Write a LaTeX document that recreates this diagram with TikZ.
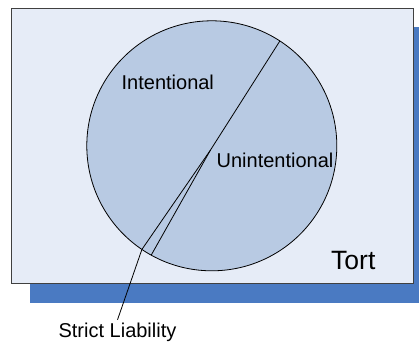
\documentclass[tikz,border=0pt]{standalone}
\usepackage{fontspec}
\setmainfont{Liberation Sans}
\definecolor{pagefill}{HTML}{E6ECF7}
\definecolor{discfill}{HTML}{B8CAE3}
\definecolor{shadowblue}{HTML}{4A7AC2}
\begin{document}
\begin{tikzpicture}[x = 1pt, y = 1pt, every node/.style = {font = \fontsize{20}{24}\selectfont}]
		\useasboundingbox (0,0) rectangle (419,343);
		\fill[shadowblue] (29.7,40.3) rectangle (432,316.3);
		\draw[fill = pagefill, draw = black!75, line width = 1pt] (11,59.7) rectangle (413.3,334.3);
		\node[circle, draw, fill = discfill, minimum size = 250pt, inner sep = 0, outer sep = 0, line width = .8pt] (tort) at (211.8,197.2) {};
		\coordinate (apex) at (210.5,193);
		\draw[line width = .8pt] (tort.57) -- (apex) -- (tort.241.6);
		\draw[line width = .8pt] (apex) -- (tort.236.8) coordinate (strict);
		\node[anchor = base] (intent) at (167.8,253.7) {Intentional};
		\node[anchor = base] (unintent) at (275,175.3) {Unintentional};
		\node[anchor = base, font = \fontsize{26.5}{30}\selectfont] (tortlbl) at (353.3,73.7) {Tort};
		\node[anchor = base, inner sep = 3pt] (strictlbl) at (117.5,5.5) {Strict Liability};
		\draw[line width = .8pt] (strictlbl.north) -- (strict);
\end{tikzpicture}
\end{document}
